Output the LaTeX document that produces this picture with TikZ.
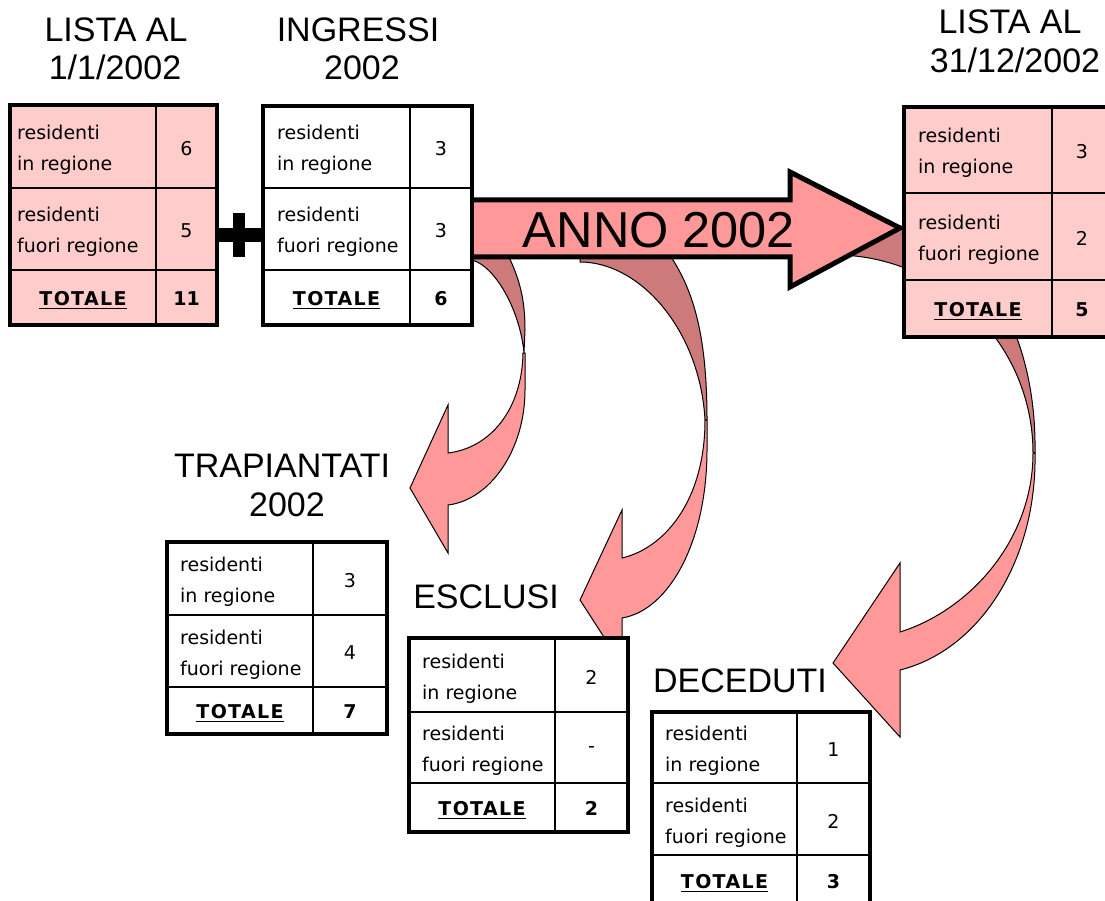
\documentclass[tikz,border=0pt]{standalone}
\usepackage{fontspec}
\setmainfont{Liberation Sans}
\newfontfamily\tabfont{DejaVu Sans}
\newfontfamily\totfont[LetterSpace=7]{DejaVu Sans}
\definecolor{tablepink}{HTML}{FFCCCC}
\definecolor{arrowpink}{HTML}{FF9999}
\definecolor{arrowdark}{HTML}{CC7A7A}
\tikzset{
 titletext/.style={font=\fontsize{34}{40}\selectfont, inner sep=0pt, anchor=base},
 bigtext/.style={font=\fontsize{50.5}{60}\selectfont, inner sep=0pt, anchor=base},
 lab/.style={font=\tabfont\fontsize{19}{24}\selectfont, inner sep=0pt, anchor=base west},
 num/.style={font=\tabfont\fontsize{19}{24}\selectfont, inner sep=0pt},
 tot/.style={font=\tabfont\bfseries\fontsize{19}{24}\selectfont, inner sep=0pt},
 totlabel/.style={font=\totfont\bfseries\fontsize{19}{24}\selectfont, inner sep=0pt},
 outerframe/.style={draw=black, line width=4.5pt},
 innerline/.style={draw=black, line width=2pt},
 ribbonback/.style={fill=arrowdark, draw=black, line width=1pt, line join=round},
 ribbonfront/.style={fill=arrowpink, draw=black, line width=1pt, line join=miter},
 bigarrow/.style={fill=arrowpink, draw=black, line width=5pt, line join=miter},
 ulineStyle/.style={draw=black, line width=1.7pt},
}
% #1 name #2 fill #3 x0 #4 xc #5 x1 #6 y0 #7 ya #8 yb #9 y1
\newcommand\mktable[9]{%
  \fill[#2] (#3,#6) rectangle (#5,#9);
  \draw[innerline] (#4,#6) -- (#4,#9) (#3,#7) -- (#5,#7) (#3,#8) -- (#5,#8);
  \draw[outerframe] (#3,#6) rectangle (#5,#9);
  \coordinate (#1-l1) at (#3,{(#6+#7)/2});
  \coordinate (#1-l2) at (#3,{(#7+#8)/2});
  \coordinate (#1-t) at ({(#3+#4)/2},{(#8+#9)/2});
  \coordinate (#1-n1) at ({(#4+#5)/2},{(#6+#7)/2});
  \coordinate (#1-n2) at ({(#4+#5)/2},{(#7+#8)/2});
  \coordinate (#1-n3) at ({(#4+#5)/2},{(#8+#9)/2});
}
% #1 name #2 inset #3 n1 #4 n2 #5 n3
\newcommand\filltable[5]{%
  \node[lab] (#1-r1a) at ([xshift=#2pt,yshift=7pt]#1-l1) {residenti};
  \node[lab] (#1-r1b) at ([xshift=#2pt,yshift=-24pt]#1-l1) {in regione};
  \node[lab] (#1-r2a) at ([xshift=#2pt,yshift=7pt]#1-l2) {residenti};
  \node[lab] (#1-r2b) at ([xshift=#2pt,yshift=-24pt]#1-l2) {fuori regione};
  \node[totlabel] (#1-tl) at ([yshift=-1pt]#1-t) {TOTALE};
  \draw[ulineStyle] ([yshift=-2.5pt]#1-tl.south west) -- ([yshift=-2.5pt]#1-tl.south east);
  \node[num] (#1-v1) at ([yshift=-2pt]#1-n1) {#3};
  \node[num] (#1-v2) at ([yshift=-2pt]#1-n2) {#4};
  \node[tot] (#1-v3) at ([yshift=-1pt]#1-n3) {#5};
}
\begin{document}
\begin{tikzpicture}[x=1pt,y=-1pt]
\clip (0,0) rectangle (1105,901);
\fill[white] (0,0) rectangle (1105,901);

% curved arrow to TRAPIANTATI
\path[ribbonback] (472,255) -- (472,260) .. controls (495,266) and (520,310) .. (524,353)
  -- (525,330) .. controls (525,300) and (520,280) .. (508,255) -- cycle;
\path[ribbonfront] (523,353) .. controls (522,410) and (490,448) .. (448,453)
  -- (448,405) -- (410,488) -- (448,553) -- (448,505)
  .. controls (490,500) and (525,450) .. (525,390) -- (525,353) -- cycle;

% curved arrow to ESCLUSI
\path[ribbonback] (580,255) -- (580,262) .. controls (640,262) and (700,330) .. (705,420)
  -- (707,420) .. controls (707,340) and (695,295) .. (673,260) -- (671,255) -- cycle;
\path[ribbonfront] (705,420) .. controls (705,500) and (665,548) .. (622,558)
  -- (622,510) -- (580,600) -- (622,665) -- (622,618)
  .. controls (670,610) and (707,540) .. (707,450) -- (707,420) -- cycle;

% curved arrow to DECEDUTI
\path[ribbonback] (840,255) .. controls (945,258) and (1033,345) .. (1033,453)
  -- (1035,453) .. controls (1037,320) and (970,230) .. (890,225) -- cycle;
\path[ribbonfront] (1033,453) .. controls (1033,540) and (970,610) .. (900,632)
  -- (900,563) -- (833,663) -- (900,737) -- (900,670)
  .. controls (980,650) and (1037,560) .. (1035,453) -- cycle;

% big arrow
\path[bigarrow] (468,200) -- (790,200) -- (790,172) -- (900,228) -- (790,287) -- (790,257) -- (468,257) -- cycle;
\node[bigtext] (anno) at (659,248) {ANNO 2002};

% plus sign
\fill[black] (218,228) rectangle (263,242);
\fill[black] (233,213) rectangle (245,257);

% tables
\mktable{A}{tablepink}{10}{156}{217}{105}{188}{270}{325}
\filltable{A}{7}{6}{5}{11}
\mktable{B}{white}{263}{410}{472}{106}{188}{270}{325}
\filltable{B}{14}{3}{3}{6}
\mktable{C}{tablepink}{904}{1052}{1112}{107}{193}{280}{337}
\filltable{C}{14}{3}{2}{5}
\mktable{D}{white}{167}{313}{387}{542}{615}{687}{734}
\filltable{D}{13}{3}{4}{7}
\mktable{E}{white}{409}{555}{628}{638}{712}{783}{832}
\filltable{E}{13}{2}{-}{2}
\mktable{F}{white}{652}{797}{870}{712}{783}{855}{906}
\filltable{F}{13}{1}{2}{3}

% titles
\node[titletext] (tA1) at (116,42) {LISTA AL};
\node[titletext] (tA2) at (115,80) {1/1/2002};
\node[titletext] (tB1) at (358,42) {INGRESSI};
\node[titletext] (tB2) at (362,80) {2002};
\node[titletext] (tC1) at (1010,34) {LISTA AL};
\node[titletext] (tC2) at (1015,73) {31/12/2002};
\node[titletext] (tD1) at (282,477) {TRAPIANTATI};
\node[titletext] (tD2) at (287,516) {2002};
\node[titletext] (tE1) at (486,608) {ESCLUSI};
\node[titletext] (tF1) at (740,692) {DECEDUTI};
\end{tikzpicture}
\end{document}
